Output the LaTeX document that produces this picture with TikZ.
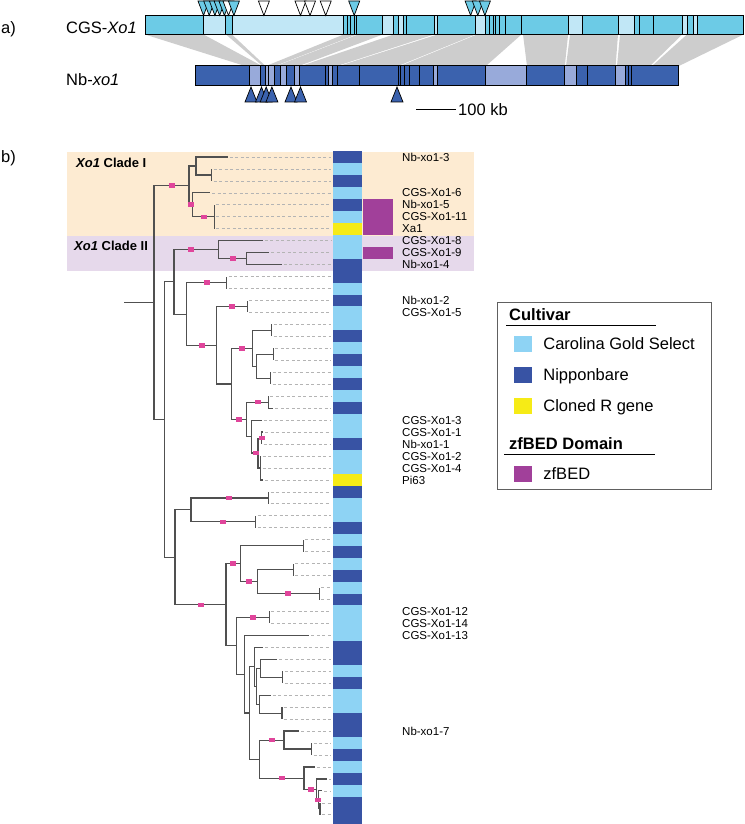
\documentclass[tikz,border=0pt]{standalone}
\usepackage{fontspec}
\setmainfont{Liberation Sans}
\usetikzlibrary{positioning}

\definecolor{cgsmid}{HTML}{6CCBE6}
\definecolor{cgslight}{HTML}{C1E7F6}
\definecolor{nbdark}{HTML}{3B62AE}
\definecolor{nblight}{HTML}{98AADA}
\definecolor{band}{HTML}{CDCDCD}
\definecolor{barL}{HTML}{8ED3F4}
\definecolor{barD}{HTML}{3853A4}
\definecolor{barY}{HTML}{F6EB16}
\definecolor{zfbed}{HTML}{A1409A}
\definecolor{cladeone}{HTML}{FDEBD2}
\definecolor{cladetwo}{HTML}{E6D9EB}
\definecolor{treegray}{HTML}{505050}
\definecolor{leadgray}{HTML}{B4B4B4}
\definecolor{mkpink}{HTML}{E0459B}
\definecolor{boxgray}{HTML}{606060}

\newcommand\legfont{\fontsize{16.5}{18}\selectfont}

\begin{document}
\begin{tikzpicture}[x=1pt,y=-1pt,
  font=\fontsize{11.5}{12}\selectfont,
  sline/.style={line width=1pt},
  tree/.style={draw=treegray,line width=1.2pt},
  lead/.style={draw=leadgray,line width=0.7pt,dash pattern=on 3pt off 2.5pt},
  mk/.style={fill=mkpink,minimum width=6pt,minimum height=4.5pt,inner sep=0pt},
  leaflab/.style={anchor=west,inner sep=0pt,text height=8.2pt,text depth=0pt},
  biglab/.style={anchor=west,inner sep=0pt,font=\legfont,text height=11.8pt,text depth=0pt},
  swatch/.style={minimum width=18pt,minimum height=16pt,inner sep=0pt},
]
\useasboundingbox (0,0) rectangle (744,824);

% ---- a) synteny of the two haplotypes
\node[biglab] (pa) at (1,27.3) {a)};
\node[biglab] (lcgs) at (66,27.3) {CGS-\textit{Xo1}};
\node[biglab] (lnb) at (66,79.5) {Nb-\textit{xo1}};

\foreach \ta/\tb/\ba/\bb in {145/203.5/245/262, 226/232/262.5/265.5, 343.7/356.6/266/275,
  358/382.7/276/299, 393.6/434/301/337, 437.4/475.4/339/398, 477/521.5/400/485.9,
  523/568.1/527/564.8, 570/618/566/615.6, 620/682.2/617/650, 687/743.5/652/678.9}
  \fill[band] (\ta,34.5) -- (\tb,34.5) -- (\bb,66) -- (\ba,66) -- cycle;

\foreach \xa/\xb/\col in {145/203.5/cgsmid, 203.5/225.8/cgslight, 225.8/232/cgsmid,
  232/343.7/cgslight, 343.7/382.7/cgsmid, 382.7/393.6/cgslight, 393.6/398.4/cgsmid,
  398.4/403.1/cgslight, 403.1/434/cgsmid, 434/437.4/cgslight, 437.4/475.4/cgsmid,
  475.4/485.9/cgslight, 485.9/568.1/cgsmid, 568.1/582.4/cgslight, 582.4/618/cgsmid,
  618/634.7/cgslight, 634.7/682.2/cgsmid, 682.2/687/cgslight, 687/693.1/cgsmid,
  693.1/697.9/cgslight, 697.9/743.5/cgsmid}
  \fill[\col] (\xa,15.5) rectangle (\xb,34.5);
\foreach \x in {203.5,225.8,232,343.7,347,350.4,354.2,356.6,382.7,393.6,398.4,403.1,406.5,
  434,437.4,475.4,485.9,489.7,493,495.9,499.2,505.4,521.5,568.1,582.4,618,634.7,639.4,
  653.7,682.2,687,693.1,697.9}
  \draw[sline] (\x,15.5) -- (\x,34.5);
\draw[sline] (145,15.5) rectangle (743.5,34.5);

\foreach \xa/\xb/\col in {195/249.6/nbdark, 249.6/260.5/nblight, 260.5/265.3/nbdark,
  265.3/274.8/nblight, 274.8/280.5/nbdark, 280.5/286.2/nblight, 286.2/294.8/nbdark,
  294.8/299.5/nblight, 299.5/328/nbdark, 328/332.8/nblight, 332.8/433.6/nbdark,
  433.6/437.4/nblight, 437.4/485.9/nbdark, 485.9/526.7/nblight, 526.7/564.8/nbdark,
  564.8/576.2/nblight, 576.2/615.6/nbdark, 615.6/625.2/nblight, 625.2/678.9/nbdark}
  \fill[\col] (\xa,66) rectangle (\xb,86);
\foreach \x in {249.6,260.5,265.3,268.6,274.8,280.5,286.2,294.8,299.5,325.7,328,332.8,
  337.5,359.9,398.4,400.8,404.1,409.8,419.3,433.6,437.4,485.9,526.7,564.8,576.2,587.1,
  615.6,625.2,628.5,631.3}
  \draw[sline] (\x,66) -- (\x,86);
\draw[sline] (195,66) rectangle (678.9,86);

% insertion marks
\foreach \x/\col in {203.5/cgsmid, 209.2/cgsmid, 214.9/cgsmid, 219.6/cgsmid, 224.4/cgsmid,
  228.5/white, 233.9/cgsmid, 263.9/white, 300.5/white, 310/white, 325.7/white,
  354.2/cgsmid, 470.6/cgsmid, 477.8/cgsmid, 484.9/cgsmid}
  \draw[fill=\col,line width=0.7pt] ({\x-5.5},1) -- ({\x+5.5},1) -- (\x,15.5) -- cycle;
\foreach \x in {251,261.5,266.2,271.9,291,300.5,397}
  \draw[fill=nbdark,line width=0.7pt] ({\x-6},102) -- ({\x+6},102) -- (\x,87) -- cycle;

\coordinate (sba) at (416,109.5);
\coordinate (sbb) at (456,109.5);
\draw[line width=1.3pt] (sba) -- (sbb);
\node[biglab] (lsb) at (458,109.5) {100 kb};

% ---- b) tree
\node[biglab] (pb) at (1,157) {b)};
\fill[cladeone] (67,151.5) rectangle (474,235.7);
\fill[cladetwo] (67,235.7) rectangle (474,271);
\node[anchor=west,inner sep=0pt,font=\fontsize{13}{14}\selectfont\bfseries] (cl1) at (76,162.7)
  {\itshape Xo1\upshape\ Clade I};
\node[anchor=west,inner sep=0pt,font=\fontsize{13}{14}\selectfont\bfseries] (cl2) at (74,246)
  {\itshape Xo1\upshape\ Clade II};

% cultivar column
\foreach \col [count=\i from 0] in {D,L,D,L,D,L,Y,L,L,D,D,L,D,L,L,D,L,D,L,D,L,D,L,L,D,L,L,Y,
  D,L,L,D,L,D,L,D,L,D,L,L,L,D,D,L,D,L,L,D,D,L,D,L,D,L,D,D}
  \fill[bar\col] (333,{151+11.96*\i}) rectangle (362,{151.02+11.96*(\i+1)});
\fill[barD] (333,820) rectangle (362,824);
\fill[zfbed] (363,198.9) rectangle (393,234.8);
\fill[zfbed] (363,246.7) rectangle (393,258.7);

% leaf tips and leader ends
\foreach \i/\x in {0/227.7, 1/211.7, 2/211.7, 3/210, 4/214.3, 5/214.3, 6/214.3, 7/262.7,
  8/269.3, 9/281.7, 10/226.7, 11/226.7, 12/247.3, 13/247.3, 14/271.7, 15/271.7, 16/273.3,
  17/273.3, 18/270.7, 19/270.7, 20/268.3, 21/273.3, 22/261.7, 23/263, 24/261.7, 25/260.5,
  26/260.5, 27/263, 28/268.7, 29/268.7, 30/255.7, 31/255.7, 32/303.3, 33/303.3, 34/293.3,
  35/293.3, 36/319.3, 37/319.3, 38/269.3, 39/269.3, 40/309.3, 41/263.3, 42/277.3, 43/282.7,
  44/282.7, 45/270.7, 46/282, 47/282, 48/299, 49/311.7, 50/311.7, 51/315, 52/326.7,
  53/322, 54/320, 55/320}
{
  \coordinate (t\i) at (\x,{157+11.96*\i});
  \coordinate (e\i) at (331,{157+11.96*\i});
}
\foreach \i in {0,...,55}
  \draw[lead] ([xshift=2pt]t\i) -- (e\i);

% internal nodes
\foreach \n/\x/\y in {r0/154/302.4, c1/189/185.3, c1a/196/165.9, c1b/211.7/174.9,
  c1c/192.3/204.8, c1d/214.3/216.8, n1/164.3/419.5, c2x/174/281.8, c2/218.3/249.7,
  c2a/246.7/258.7, k1/186.7/314.1, k2/226.7/282.6, k3/216.7/345.7, k4/247.3/306.5,
  k5/231.7/384, k6/252.7/348.3, k7/246.7/419.5, k8/271.7/330.4, k9/256.7/366.3,
  k10/273.3/354.4, k11/270.7/378.3, k12/268.3/402.2, k13/251.7/436.6, k14/258/453,
  k15/261.7/438.1, k16/260.5/468, n2/175/557.3, m1/191/509.8, m2/226/604.8,
  m3/268.7/497.9, m4/255.7/521.8, m5/240.7/563.7, m6/236.7/645.8, m7/303.3/545.7,
  m8/257.3/581.6, m9/293.3/569.6, m10/319.3/593.6, m11/269.3/617.4, m12/244.3/674.2,
  m13/249.3/713, m14/254.3/666.8, m15/259.3/759.1, m16/256.5/686.3, m17/260.7/668.3,
  m18/259.3/704.2, m19/282.7/677.3, m20/282/713.2, m21/284/740.1, m22/304/778.2,
  m23/311.7/749, m24/316.7/789.4, m25/318.5/799.9, m26/320/808.8}
  \coordinate (\n) at (\x,\y);
\coordinate (root) at (124,302.4);

\draw[tree] (root) -- (r0);
\foreach \p/\q in {r0/c1, r0/n1, c1/c1a, c1/c1c, c1a/t0, c1a/c1b, c1b/t1, c1b/t2, c1c/t3,
  c1c/c1d, c1d/t4, c1d/t5, c1d/t6, n1/c2x, n1/n2, c2x/c2, c2x/k1, c2/t7, c2/c2a, c2a/t8,
  c2a/t9, k1/k2, k1/k3, k2/t10, k2/t11, k3/k4, k3/k5, k4/t12, k4/t13, k5/k6, k5/k7, k6/k8,
  k6/k9, k8/t14, k8/t15, k9/k10, k9/k11, k10/t16, k10/t17, k11/t18, k11/t19, k7/k12,
  k7/k13, k12/t20, k12/t21, k13/t22, k13/k14, k14/k15, k14/k16, k15/t23, k15/t24,
  k16/t25, k16/t26, k16/t27, n2/m1, n2/m2, m1/m3, m1/m4, m3/t28, m3/t29, m4/t30, m4/t31,
  m2/m5, m2/m6, m5/m7, m5/m8, m7/t32, m7/t33, m8/m9, m8/m10, m9/t34, m9/t35, m10/t36,
  m10/t37, m6/m11, m6/m12, m11/t38, m11/t39, m12/t40, m12/m13, m13/m14, m13/m15,
  m14/t41, m14/m16, m16/m17, m16/m18, m17/t42, m17/m19, m19/t43, m19/t44, m18/t45,
  m18/m20, m20/t46, m20/t47, m15/m21, m15/m22, m21/t48, m21/m23, m23/t49, m23/t50,
  m22/t51, m22/m24, m24/t52, m24/m25, m25/t53, m25/m26, m26/t54, m26/t55}
  \draw[tree] (\p) |- (\q);

% support marks
\foreach \x/\y [count=\i] in {171.7/185.3, 190.7/204.5, 203.7/216.8, 190.7/249.7,
  233.3/258.7, 206.7/282.6, 201.7/345.7, 232.3/306.5, 242.3/348.3, 239.3/419.5,
  257.7/402.2, 255.7/453, 261.7/438.1, 229.3/497.9, 222.7/521.8, 200.7/604.8,
  233.3/563.7, 249.3/581.6, 288.3/593.6, 253.3/617.4, 271.7/740.1, 281.7/778.2,
  310.7/789.4, 317.7/799.9}
  \node[mk] (mk\i) at (\x,\y) {};

% gene names
\foreach \i/\txt in {0/Nb-xo1-3, 3/CGS-Xo1-6, 4/Nb-xo1-5, 5/CGS-Xo1-11, 6/Xa1,
  7/CGS-Xo1-8, 8/CGS-Xo1-9, 9/Nb-xo1-4, 12/Nb-xo1-2, 13/CGS-Xo1-5, 22/CGS-Xo1-3,
  23/CGS-Xo1-1, 24/Nb-xo1-1, 25/CGS-Xo1-2, 26/CGS-Xo1-4, 27/Pi63, 38/CGS-Xo1-12,
  39/CGS-Xo1-14, 40/CGS-Xo1-13, 48/Nb-xo1-7}
  \node[leaflab] (lb\i) at (402,{157+11.96*\i}) {\txt};

% ---- legend
\draw[draw=boxgray,line width=0.9pt] (497,302.5) rectangle (711.5,489);
\node[biglab,font=\legfont\bfseries] (lgc) at (509,315) {Cultivar};
\draw[line width=1.2pt] (506,325.5) -- (656,325.5);
\node[swatch,fill=barL] (sw1) at (523,343.5) {};
\node[swatch,fill=barD] (sw2) at (523,374.5) {};
\node[swatch,fill=barY] (sw3) at (523,405.5) {};
\node[biglab,right=11pt of sw1] (lg1) {Carolina Gold Select};
\node[biglab,right=11pt of sw2] (lg2) {Nipponbare};
\node[biglab,right=11pt of sw3] (lg3) {Cloned R gene};
\node[biglab,font=\legfont\bfseries] (lgz) at (509,443.5) {zfBED Domain};
\draw[line width=1.2pt] (504,454.5) -- (655,454.5);
\node[swatch,fill=zfbed] (sw4) at (523,473.5) {};
\node[biglab,right=11pt of sw4] (lg4) {zfBED};
\end{tikzpicture}
\end{document}
